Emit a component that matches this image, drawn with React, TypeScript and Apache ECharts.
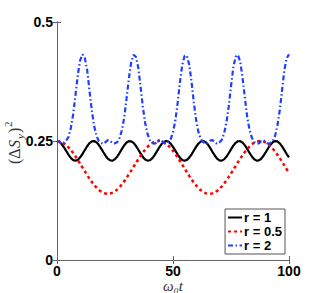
import React, { useEffect, useRef } from "react";
import * as echarts from "echarts";

// time axis (ω0 t)
const tFine: number[] = Array.from({ length: 101 }, (_, i) => i);
const tCoarse: number[] = Array.from({ length: 51 }, (_, i) => i * 2);

// r = 1 (black, solid) values read at t = 0..100 step 1
const r1Vals: number[] = [
  0.25, 0.2484, 0.2437, 0.2368, 0.2287, 0.2207, 0.214, 0.2098, 0.2086, 0.2107,
  0.2158, 0.2229, 0.2311, 0.239, 0.2454, 0.2492, 0.2499, 0.2473, 0.2419, 0.2345,
  0.2263, 0.2186, 0.2125, 0.2091, 0.2089, 0.2119, 0.2176, 0.2252, 0.2335, 0.2411,
  0.2468, 0.2497, 0.2494, 0.246, 0.2399, 0.2321, 0.2239, 0.2166, 0.2113, 0.2088,
  0.2095, 0.2133, 0.2198, 0.2277, 0.2359, 0.243, 0.248, 0.25, 0.2487, 0.2445,
  0.2377, 0.2297, 0.2216, 0.2148, 0.2102, 0.2086, 0.2103, 0.215, 0.222, 0.2301,
  0.2381, 0.2447, 0.2489, 0.25, 0.2478, 0.2427, 0.2355, 0.2273, 0.2195, 0.2131,
  0.2094, 0.2087, 0.2114, 0.2168, 0.2243, 0.2325, 0.2402, 0.2462, 0.2495, 0.2496,
  0.2466, 0.2408, 0.2332, 0.2249, 0.2174, 0.2117, 0.2088, 0.2092, 0.2127, 0.2189,
  0.2267, 0.2348, 0.2422, 0.2475, 0.2499, 0.2491, 0.2451, 0.2387, 0.2307, 0.2226,
  0.2155,
];

// r = 0.5 (red, dotted) values read at t = 0..100 step 2
const r05Vals: number[] = [
  0.25, 0.2477, 0.2411, 0.2307, 0.2173, 0.202, 0.1861, 0.1709, 0.1577, 0.1474,
  0.141, 0.139, 0.1415, 0.1483, 0.159, 0.1727, 0.1878, 0.2037, 0.2188, 0.2318,
  0.242, 0.2482, 0.25, 0.2472, 0.2401, 0.2293, 0.2157, 0.2003, 0.1844, 0.1694,
  0.1564, 0.1465, 0.1406, 0.1391, 0.1421, 0.1493, 0.1604, 0.1743, 0.1895, 0.2054,
  0.2203, 0.2332, 0.2429, 0.2486, 0.2499, 0.2467, 0.2391, 0.228, 0.2141, 0.1986,
  0.1828,
];

// r = 2 (blue, dash-dot) values read at t = 0..100 step 1
const r2Vals: number[] = [
  0.25, 0.249, 0.244, 0.246, 0.251, 0.259, 0.278, 0.307, 0.348, 0.39,
  0.42, 0.432, 0.424, 0.399, 0.356, 0.314, 0.282, 0.261, 0.25, 0.246,
  0.244, 0.248, 0.252, 0.25, 0.245, 0.245, 0.248, 0.257, 0.273, 0.3,
  0.34, 0.382, 0.416, 0.431, 0.427, 0.405, 0.365, 0.322, 0.288, 0.265,
  0.252, 0.247, 0.244, 0.247, 0.252, 0.251, 0.246, 0.244, 0.248, 0.254,
  0.268, 0.293, 0.33, 0.374, 0.41, 0.429, 0.429, 0.41, 0.374, 0.33,
  0.293, 0.268, 0.254, 0.248, 0.244, 0.246, 0.251, 0.252, 0.247, 0.244,
  0.247, 0.252, 0.265, 0.288, 0.322, 0.365, 0.405, 0.427, 0.431, 0.416,
  0.382, 0.34, 0.3, 0.273, 0.257, 0.248, 0.245, 0.245, 0.25, 0.252,
  0.248, 0.244, 0.246, 0.25, 0.261, 0.282, 0.314, 0.356, 0.399, 0.424,
  0.432,
];

const seriesNames: string[] = ["r = 1", "r = 0.5", "r = 2"];
const xTicks = { min: 0, max: 100, interval: 50 };
const yTicks = { min: 0, max: 0.5, interval: 0.25 };

const labelFont = "'Liberation Sans', Arial, sans-serif";
const mathFont = "'Liberation Serif', 'DejaVu Serif', serif";
const frame = "#666";
const titleColor = "#333";

export default function App() {
  const ref = useRef<HTMLDivElement>(null);
  useEffect(() => {
    document.body.style.margin = "0";
    if (!ref.current) return;
    const chart = echarts.init(ref.current, null, { renderer: "svg" });
    const axisCommon = {
      type: "value" as const,
      axisLine: { show: true, lineStyle: { color: frame, width: 1 } },
      axisTick: { show: true, inside: true, length: 4, lineStyle: { color: frame } },
      splitLine: { show: false },
    };
    const labelStyle = {
      color: "#000",
      fontWeight: "bold" as const,
      fontSize: 14,
      fontFamily: labelFont,
    };
    chart.setOption({
      animation: false,
      backgroundColor: "#fff",
      grid: { left: 57, right: 30, top: 22, bottom: 33 },
      xAxis: [
        { ...axisCommon, position: "bottom", ...xTicks, axisLabel: { ...labelStyle, margin: 5, lineHeight: 12 } },
        { ...axisCommon, position: "top", ...xTicks, axisLabel: { show: false } },
      ],
      yAxis: [
        { ...axisCommon, position: "left", ...yTicks, axisLabel: { ...labelStyle, margin: 4 } },
        { ...axisCommon, position: "right", ...yTicks, axisLabel: { show: false } },
      ],
      legend: {
        orient: "vertical",
        right: 34,
        bottom: 39,
        padding: [2, 3, 2, 2],
        itemGap: 1,
        itemWidth: 14,
        itemHeight: 12,
        borderColor: "#555",
        borderWidth: 1,
        borderRadius: 0,
        backgroundColor: "#fff",
        data: seriesNames,
        itemStyle: { opacity: 0 },
        textStyle: { color: "#000", fontWeight: "bold", fontSize: 13, fontFamily: labelFont, padding: [0, 0, 0, -3] },
      },
      series: [
        {
          name: seriesNames[0],
          type: "line",
          symbol: "none",
          data: tFine.map((t, i) => [t, r1Vals[i]]),
          lineStyle: { color: "#000", width: 2.2, type: "solid" },
          itemStyle: { color: "#000" },
        },
        {
          name: seriesNames[1],
          type: "line",
          symbol: "none",
          smooth: 0.3,
          data: tCoarse.map((t, i) => [t, r05Vals[i]]),
          lineStyle: { color: "#ff0000", width: 2.5, type: [3, 3] },
          itemStyle: { color: "#ff0000" },
        },
        {
          name: seriesNames[2],
          type: "line",
          symbol: "none",
          data: tFine.map((t, i) => [t, r2Vals[i]]),
          lineStyle: { color: "#1f3fff", width: 2.2, type: [5, 2.5, 1.5, 2.5] },
          itemStyle: { color: "#1f3fff" },
        },
      ],
      graphic: [
        {
          type: "text",
          x: 173,
          y: 278,
          style: {
            text: "ω₀t",
            font: `italic 15px ${mathFont}`,
            fill: titleColor,
            align: "center",
          },
        },
        {
          type: "group",
          x: 6,
          y: 164,
          rotation: Math.PI / 2,
          children: [
            { type: "text", x: 0, y: 0, style: { text: "(Δ", font: `16px ${mathFont}`, fill: titleColor } },
            { type: "text", x: 16, y: 0, style: { text: "S", font: `italic 16px ${mathFont}`, fill: titleColor } },
            { type: "text", x: 25, y: 8, style: { text: "y", font: `italic 11px ${mathFont}`, fill: titleColor } },
            { type: "text", x: 31, y: 0, style: { text: ")", font: `16px ${mathFont}`, fill: titleColor } },
            { type: "text", x: 37, y: -4, style: { text: "2", font: `11px ${mathFont}`, fill: titleColor } },
          ],
        },
      ],
    });
    return () => chart.dispose();
  }, []);
  return <div ref={ref} style={{ width: 319, height: 293 }} />;
}
